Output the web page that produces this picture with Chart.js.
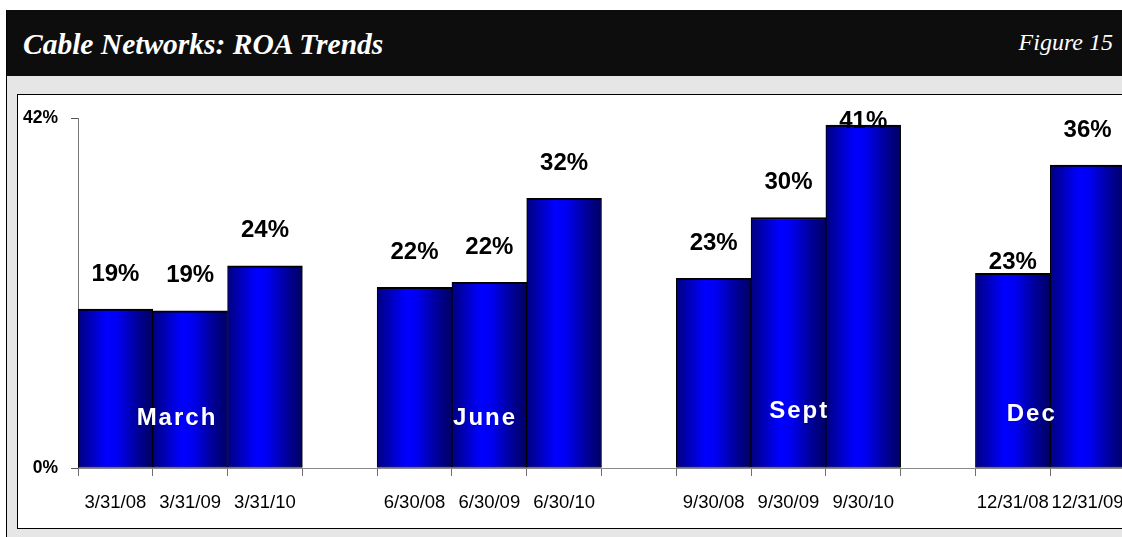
<!DOCTYPE html>
<html>
<head>
<meta charset="utf-8">
<script src="https://cdn.jsdelivr.net/npm/chart.js@4/dist/chart.umd.min.js"></script>
<style>
  html, body { margin: 0; padding: 0; width: 1122px; height: 537px; overflow: hidden; background: #fff; }
  .frame { position: absolute; left: 6px; top: 10px; width: 1200px; height: 540px; background: #e6e6e6; border-left: 1px solid #000; }
  .header { position: absolute; left: 0; top: 0; width: 1122px; height: 66px; background: #0d0d0d; }
  .title { position: absolute; left: 16px; top: 18px; color: #fff; font: italic bold 29.5px "Liberation Serif", "Times New Roman", serif; white-space: nowrap; }
  .fig { position: absolute; right: 16px; top: 19px; color: #fff; font: italic 24px "Liberation Serif", "Times New Roman", serif; white-space: nowrap; }
  .plot { position: absolute; left: 10px; top: 84px; width: 1180px; height: 435px; background: #fff; border: 1.5px solid #000; box-sizing: border-box; }
  #chart-wrap { position: absolute; left: 0; top: 0; width: 1140px; height: 432px; }
</style>
</head>
<body>
<div class="frame">
  <div class="header">
    <div class="title">Cable Networks: ROA Trends</div>
    <div class="fig">Figure 15</div>
  </div>
  <div class="plot">
    <div id="chart-wrap"><canvas id="c"></canvas></div>
  </div>
</div>
<script>
// Quarter-end dates; blank entries leave a gap between quarter groups
const categories = ['3/31/08', '3/31/09', '3/31/10', '',
                    '6/30/08', '6/30/09', '6/30/10', '',
                    '9/30/08', '9/30/09', '9/30/10', '',
                    '12/31/08', '12/31/09'];

// Return on assets, percent
const roa = [19.1, 18.9, 24.3, null,
             21.7, 22.3, 32.4, null,
             22.8, 30.1, 41.2, null,
             23.4, 36.4];

// Quarter names written across each group
const quarterNames = ['March', 'June', 'Sept', 'Dec'];

// Y-axis tick values
const yTicks = [0, 42];

const SANS = '"Liberation Sans", Arial, sans-serif';

// Horizontal shading across each bar
function barFill(ctx) {
  const chart = ctx.chart;
  const xs = chart.scales.x;
  if (!chart.chartArea || !xs) return '#0000cc';
  const cx = xs.getPixelForValue(ctx.dataIndex);
  const w = xs.width / categories.length;
  const g = chart.ctx.createLinearGradient(cx - w / 2, 0, cx + w / 2, 0);
  g.addColorStop(0, '#000080');
  g.addColorStop(0.38, '#0000ff');
  g.addColorStop(0.52, '#0000f4');
  g.addColorStop(0.8, '#000098');
  g.addColorStop(1, '#000064');
  return g;
}

// Percent labels above bars and quarter names inside the groups
const annotate = {
  id: 'annotate',
  afterDatasetsDraw(chart, args, opts) {
    const ctx = chart.ctx;
    const meta = chart.getDatasetMeta(0);
    const top = chart.chartArea.top;
    ctx.save();
    ctx.textAlign = 'center';
    ctx.textBaseline = 'middle';
    ctx.fillStyle = '#000';
    ctx.font = 'bold 24px ' + SANS;
    meta.data.forEach((bar, i) => {
      const v = roa[i];
      if (v == null) return;
      const lift = opts.lift[i] != null ? opts.lift[i] : 35;
      const y = Math.max(bar.y - lift, top + 3);
      ctx.fillText(Math.round(v) + '%', bar.x, y);
    });
    // quarter names
    const xs = chart.scales.x, ys = chart.scales.y;
    ctx.fillStyle = '#fff';
    ctx.font = 'bold 24px ' + SANS;
    ctx.letterSpacing = '2px';
    quarterNames.forEach((name, k) => {
      const p = opts.groupAt[k];
      ctx.fillText(name, xs.getPixelForValue(p[0]) + 1, ys.getPixelForValue(p[1]));
    });
    ctx.restore();
  }
};

new Chart(document.getElementById('c'), {
  type: 'bar',
  data: {
    labels: categories,
    datasets: [{
      data: roa,
      backgroundColor: barFill,
      borderColor: '#000',
      borderWidth: { left: 1, right: 1, top: 2, bottom: 1 },
      borderSkipped: false,
      categoryPercentage: 1.0,
      barPercentage: 1.0
    }]
  },
  options: {
    responsive: true,
    maintainAspectRatio: false,
    animation: false,
    events: [],
    layout: { padding: { top: 20.5, right: 33, left: 0, bottom: 0 } },
    plugins: {
      legend: { display: false },
      tooltip: { enabled: false },
      annotate: {
        lift: { 12: 11 },
        groupAt: [[0.81, 6.0], [4.93, 6.0], [9.13, 6.8], [12.24, 6.5]]
      }
    },
    scales: {
      x: {
        offset: true,
        grid: { display: true, drawOnChartArea: false, drawTicks: true, tickLength: 8, offset: true, color: '#6e6e6e', lineWidth: 1 },
        border: { display: true, color: '#8a8a8a', width: 1 },
        ticks: { color: '#000', font: { family: SANS, size: 18.5 }, padding: 16, maxRotation: 0, autoSkip: false },
        afterFit(s) { s.height = 59; }
      },
      y: {
        min: 0,
        max: 42,
        afterBuildTicks(s) { s.ticks = yTicks.map(v => ({ value: v })); },
        grid: { display: true, drawOnChartArea: false, drawTicks: true, tickLength: 7, color: '#555', lineWidth: 1 },
        border: { display: true, color: '#777', width: 1 },
        ticks: { color: '#000', font: { family: SANS, size: 17.5, weight: 'bold' }, padding: 13, callback: v => v + '%' },
        afterFit(s) { s.width = 60; }
      }
    }
  },
  plugins: [annotate]
});
</script>
</body>
</html>
